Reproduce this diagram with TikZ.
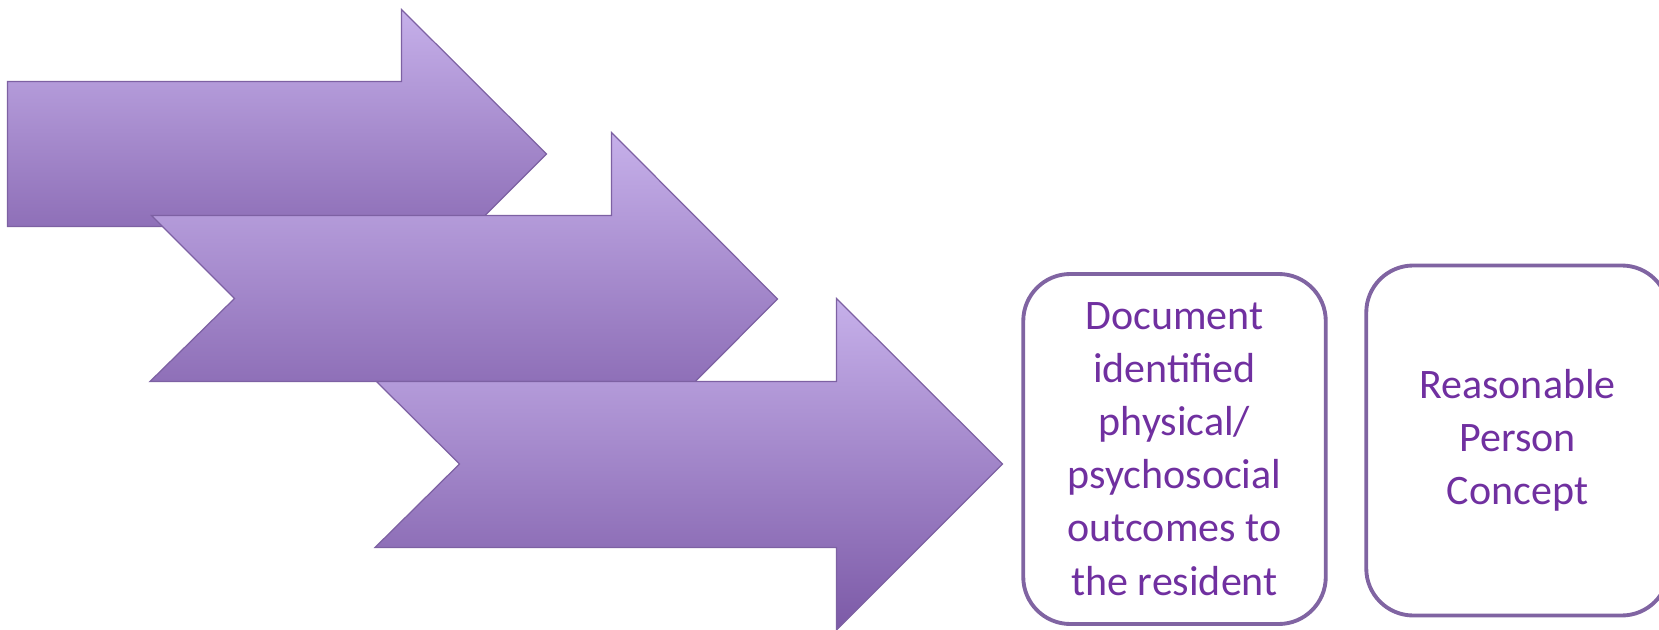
\documentclass[tikz,border=0pt]{standalone}
\usepackage{fontspec}
\setmainfont{Carlito}

\definecolor{arrowtop}{HTML}{C6B0EA}
\definecolor{arrowbottom}{HTML}{7C5AA7}
\definecolor{arrowedge}{HTML}{7D61A3}
\definecolor{boxedge}{HTML}{8064A2}
\definecolor{boxtext}{HTML}{7030A0}

\tikzset{
    chevron/.style={draw=arrowedge, line width=0.7pt, line join=miter,
        top color=arrowtop, bottom color=arrowbottom},
    outcome/.style={draw=boxedge, line width=2.2pt, rounded corners=0.94cm,
        minimum width=6.05cm, minimum height=7cm, inner sep=0pt,
        align=center, text=boxtext, font=\fontsize{23.9}{30.2}\selectfont}
}

\begin{document}
\begin{tikzpicture}
        \useasboundingbox (0, 0) rectangle (33.18, 12.58);

        % Draw the three arrows, back to front
        \draw[chevron] (0.15, 10.95) -- (8.03, 10.95) -- (8.03, 12.39) -- (10.93, 9.5)
            -- (8.03, 6.6) -- (8.03, 8.05) -- (0.15, 8.05) -- cycle;

        \draw[chevron] (3.03, 8.27) -- (12.23, 8.27) -- (12.23, 9.93) -- (15.55, 6.6)
            -- (12.23, 3.27) -- (12.23, 4.95) -- (3.0, 4.95) -- (4.69, 6.61) -- cycle;

        \draw[chevron] (7.53, 4.95) -- (16.73, 4.95) -- (16.73, 6.61) -- (20.05, 3.3)
            -- (16.73, -0.02) -- (16.73, 1.63) -- (7.5, 1.63) -- (9.19, 3.3) -- cycle;

        % Draw the two boxes
        \node[outcome] (outcomes) at (23.49, 3.6)
            {Document\\identified\\physical/\\psychosocial\\outcomes to\\the resident};
        \node[outcome] (reasonable) at (30.35, 3.77)
            {Reasonable\\Person\\Concept};
\end{tikzpicture}
\end{document}
